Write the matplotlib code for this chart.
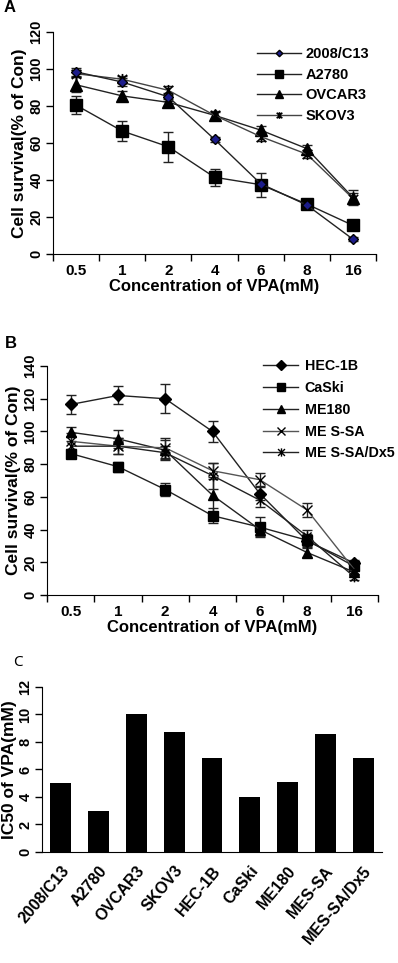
import matplotlib
matplotlib.use('Agg')
import matplotlib.pyplot as plt
from matplotlib.path import Path
from matplotlib.ticker import FixedLocator, MultipleLocator

plt.rcParams['font.family'] = ['Liberation Sans', 'DejaVu Sans']
plt.rcParams['font.weight'] = 'bold'
plt.rcParams['axes.labelweight'] = 'bold'

# ===================== 数据 =====================
conc = ['0.5', '1', '2', '4', '6', '8', '16']

# Panel A
a_names = ['2008/C13', 'A2780', 'OVCAR3', 'SKOV3']
a_c13 = [98.5, 93, 85, 62, 38, 26.5, 8]
a_c13_err = [2, 2, 2, 1.5, 2, 1.5, 1]
a_a2780 = [80.5, 66.5, 58, 41.5, 37.5, 27, 15.5]
a_a2780_err = [5, 5.5, 8, 4.5, 6.5, 2, 2]
a_ovcar3 = [91.5, 85.5, 82, 75, 67, 57, 30.5]
a_ovcar3_err = [4, 2.5, 2, 2, 2, 2, 4]
a_skov3 = [97.5, 94.5, 88.5, 75, 63.5, 54, 30]
a_skov3_err = [2, 2, 2.5, 2.5, 2.5, 2, 3]

# Panel B
b_names = ['HEC-1B', 'CaSki', 'ME180', 'ME S-SA', 'ME S-SA/Dx5']
b_hec = [116.5, 122, 120, 100, 62, 33, 19.5]
b_hec_err = [6, 5.5, 9, 6.5, 4, 3, 2]
b_caski = [86.5, 78.5, 64.5, 48.5, 41.5, 33.5, 17.5]
b_caski_err = [2, 3, 4, 4.5, 6, 4, 2.5]
b_me180 = [99.5, 95.5, 88.5, 61, 40, 26, 14]
b_me180_err = [3, 5.5, 6, 11, 4, 2.5, 2]
b_messa = [94, 91, 90, 76, 70.5, 52, 15.5]
b_messa_err = [5, 5, 6, 5, 4, 4, 2.5]
b_dx5 = [91, 91, 87, 73, 58, 36, 11]
b_dx5_err = [3, 5, 4, 8, 4, 4, 2]

# Panel C
c_names = ['2008/C13', 'A2780', 'OVCAR3', 'SKOV3', 'HEC-1B', 'CaSki', 'ME180', 'MES-SA', 'MES-SA/Dx5']
c_ic50 = [5.05, 3.0, 10.0, 8.7, 6.8, 4.0, 5.1, 8.55, 6.8]

# Excel式星形标记：x加竖线
star = Path([(-1, -1), (1, 1), (-1, 1), (1, -1), (0, -1.2), (0, 1.2)],
            [Path.MOVETO, Path.LINETO, Path.MOVETO, Path.LINETO, Path.MOVETO, Path.LINETO])


def style_line_axes(ax, ymax, ystep):
    n = len(conc)
    ax.set_xlim(-0.5, n - 0.5)
    ax.set_ylim(0, ymax)
    ax.spines['top'].set_visible(False)
    ax.spines['right'].set_visible(False)
    ax.xaxis.set_major_locator(FixedLocator(range(n)))
    ax.set_xticklabels(conc)
    ax.xaxis.set_minor_locator(FixedLocator([i - 0.5 for i in range(n + 1)]))
    ax.tick_params(axis='x', which='major', length=0, labelsize=11, pad=7)
    ax.tick_params(axis='x', which='minor', length=5, width=1)
    ax.yaxis.set_major_locator(MultipleLocator(ystep))
    ax.tick_params(axis='y', length=5, width=1, labelsize=10.5, labelrotation=90, pad=2)
    for lab in ax.get_yticklabels():
        lab.set_va('center')
    ax.set_xlabel('Concentration of VPA(mM)', fontsize=12, labelpad=1)
    ax.set_ylabel('Cell survival(% of Con)', fontsize=12.5, labelpad=2)


def draw(ax, y, err, label, marker, ms, mfc='black', color='#222222', mew=1.0):
    x = range(len(y))
    ax.errorbar(x, y, yerr=err, fmt='none', ecolor='#222222', elinewidth=1, capsize=3.5, capthick=1, zorder=2)
    ax.plot(x, y, color=color, lw=1, marker=marker, ms=ms, mfc=mfc, mec='black', mew=mew, label=label, zorder=3)


fig = plt.figure(figsize=(3.98, 9.63), dpi=100)

# ===================== A =====================
axA = fig.add_axes([0.1332, 0.7362, 0.8116, 0.2305])
draw(axA, a_a2780, a_a2780_err, a_names[1], 's', 8.5)
draw(axA, a_ovcar3, a_ovcar3_err, a_names[2], '^', 8.5)
draw(axA, a_skov3, a_skov3_err, a_names[3], star, 8, mfc='none', color='#444444', mew=1.2)
draw(axA, a_c13, a_c13_err, a_names[0], 'D', 5.5, mfc='#1c1c8a')
style_line_axes(axA, 120, 20)
h, l = axA.get_legend_handles_labels()
order = [l.index(n) for n in a_names]
axA.legend([h[i] for i in order], [l[i] for i in order], loc='upper left',
           bbox_to_anchor=(0.632, 0.932), frameon=False, fontsize=10.5, handlelength=3.0,
           handletextpad=0.3, labelspacing=0.45, borderpad=0, borderaxespad=0, markerscale=0.6)
fig.text(10 / 398, 1 - 8 / 963, 'A', fontsize=12, fontweight='bold', ha='center', va='center')

# ===================== B =====================
axB = fig.add_axes([0.1181, 0.3821, 0.8317, 0.2378])
draw(axB, b_hec, b_hec_err, b_names[0], 'D', 6.5)
draw(axB, b_caski, b_caski_err, b_names[1], 's', 7)
draw(axB, b_me180, b_me180_err, b_names[2], '^', 6.5)
draw(axB, b_messa, b_messa_err, b_names[3], 'x', 7, mfc='none', color='#555555', mew=1)
draw(axB, b_dx5, b_dx5_err, b_names[4], star, 7, mfc='none', mew=1)
style_line_axes(axB, 140, 20)
axB.legend(loc='upper left', bbox_to_anchor=(0.653, 1.031), frameon=False, fontsize=10.3,
           handlelength=2.45, handletextpad=0.45, labelspacing=0.55, borderpad=0, borderaxespad=0,
           markerscale=0.85)
fig.text(11 / 398, 1 - 344 / 963, 'B', fontsize=12, fontweight='bold', ha='center', va='center')

# ===================== C =====================
axC = fig.add_axes([0.1055, 0.1153, 0.8543, 0.1713])
axC.bar(range(len(c_names)), c_ic50, width=0.55, color='black')
axC.set_xlim(-0.5, len(c_names) - 0.5)
axC.set_ylim(0, 12)
axC.spines['top'].set_visible(False)
axC.spines['right'].set_visible(False)
axC.set_xticks(range(len(c_names)))
axC.set_xticklabels(c_names, rotation=50, ha='right', rotation_mode='anchor', fontsize=11.5)
axC.tick_params(axis='x', length=0, pad=8)
axC.yaxis.set_major_locator(MultipleLocator(2))
axC.tick_params(axis='y', length=5, width=1, labelsize=10.5, labelrotation=90, pad=2)
for lab in axC.get_yticklabels():
    lab.set_va('center')
axC.set_ylabel('IC50 of VPA(mM)', fontsize=12.5, labelpad=1)
fig.text(18 / 398, 1 - 662 / 963, 'C', fontsize=11, fontweight='normal',
         family=['Noto Sans', 'DejaVu Sans'], ha='center', va='center')

plt.savefig('out.png', dpi=100)
